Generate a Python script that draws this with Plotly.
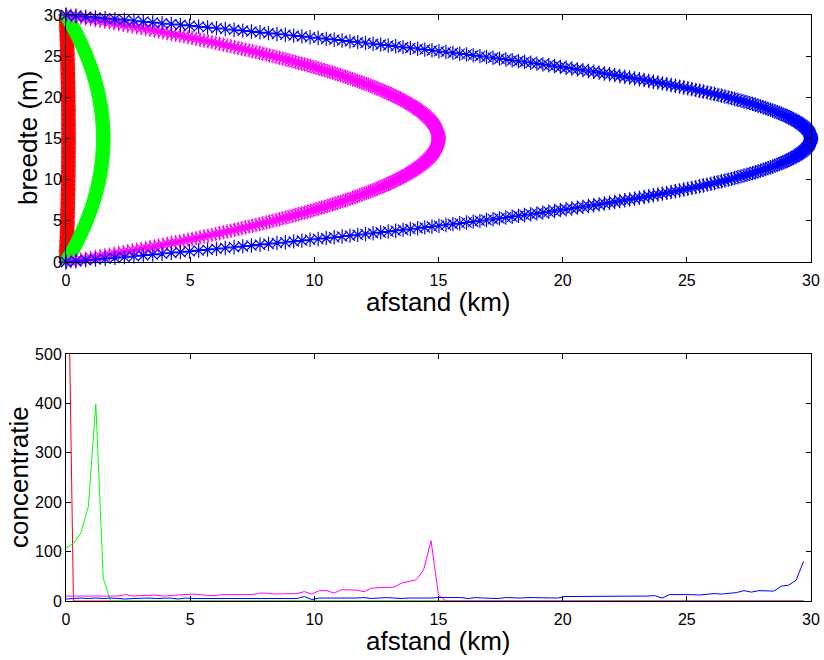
import plotly.graph_objects as go

# ---- Dwarsprofiel: positie over de breedte (m) ----
breedte_m = [
    0.0, 0.1, 0.2, 0.3, 0.4, 0.5, 0.6, 0.7, 0.8, 0.9,
    1.0, 1.1, 1.2, 1.3, 1.4, 1.5, 1.6, 1.7, 1.8, 1.9,
    2.0, 2.1, 2.2, 2.3, 2.4, 2.5, 2.6, 2.7, 2.8, 2.9,
    3.0, 3.1, 3.2, 3.3, 3.4, 3.5, 3.6, 3.7, 3.8, 3.9,
    4.0, 4.1, 4.2, 4.3, 4.4, 4.5, 4.6, 4.7, 4.8, 4.9,
    5.0, 5.1, 5.2, 5.3, 5.4, 5.5, 5.6, 5.7, 5.8, 5.9,
    6.0, 6.1, 6.2, 6.3, 6.4, 6.5, 6.6, 6.7, 6.8, 6.9,
    7.0, 7.1, 7.2, 7.3, 7.4, 7.5, 7.6, 7.7, 7.8, 7.9,
    8.0, 8.1, 8.2, 8.3, 8.4, 8.5, 8.6, 8.7, 8.8, 8.9,
    9.0, 9.1, 9.2, 9.3, 9.4, 9.5, 9.6, 9.7, 9.8, 9.9,
    10.0, 10.1, 10.2, 10.3, 10.4, 10.5, 10.6, 10.7, 10.8, 10.9,
    11.0, 11.1, 11.2, 11.3, 11.4, 11.5, 11.6, 11.7, 11.8, 11.9,
    12.0, 12.1, 12.2, 12.3, 12.4, 12.5, 12.6, 12.7, 12.8, 12.9,
    13.0, 13.1, 13.2, 13.3, 13.4, 13.5, 13.6, 13.7, 13.8, 13.9,
    14.0, 14.1, 14.2, 14.3, 14.4, 14.5, 14.6, 14.7, 14.8, 14.9,
    15.0, 15.1, 15.2, 15.3, 15.4, 15.5, 15.6, 15.7, 15.8, 15.9,
    16.0, 16.1, 16.2, 16.3, 16.4, 16.5, 16.6, 16.7, 16.8, 16.9,
    17.0, 17.1, 17.2, 17.3, 17.4, 17.5, 17.6, 17.7, 17.8, 17.9,
    18.0, 18.1, 18.2, 18.3, 18.4, 18.5, 18.6, 18.7, 18.8, 18.9,
    19.0, 19.1, 19.2, 19.3, 19.4, 19.5, 19.6, 19.7, 19.8, 19.9,
    20.0, 20.1, 20.2, 20.3, 20.4, 20.5, 20.6, 20.7, 20.8, 20.9,
    21.0, 21.1, 21.2, 21.3, 21.4, 21.5, 21.6, 21.7, 21.8, 21.9,
    22.0, 22.1, 22.2, 22.3, 22.4, 22.5, 22.6, 22.7, 22.8, 22.9,
    23.0, 23.1, 23.2, 23.3, 23.4, 23.5, 23.6, 23.7, 23.8, 23.9,
    24.0, 24.1, 24.2, 24.3, 24.4, 24.5, 24.6, 24.7, 24.8, 24.9,
    25.0, 25.1, 25.2, 25.3, 25.4, 25.5, 25.6, 25.7, 25.8, 25.9,
    26.0, 26.1, 26.2, 26.3, 26.4, 26.5, 26.6, 26.7, 26.8, 26.9,
    27.0, 27.1, 27.2, 27.3, 27.4, 27.5, 27.6, 27.7, 27.8, 27.9,
    28.0, 28.1, 28.2, 28.3, 28.4, 28.5, 28.6, 28.7, 28.8, 28.9,
    29.0, 29.1, 29.2, 29.3, 29.4, 29.5, 29.6, 29.7, 29.8, 29.9,
    30.0,
]

# Relatieve verplaatsing over de breedte (0 aan de oevers, 1 midden in de geul)
profiel = [
    0.0, 0.0133, 0.0265, 0.0396, 0.0526, 0.0656, 0.0784, 0.0912, 0.1038, 0.1164,
    0.1289, 0.1413, 0.1536, 0.1658, 0.1780, 0.1900, 0.2020, 0.2138, 0.2256, 0.2373,
    0.2489, 0.2604, 0.2718, 0.2832, 0.2944, 0.3056, 0.3166, 0.3276, 0.3385, 0.3493,
    0.3600, 0.3706, 0.3812, 0.3916, 0.4020, 0.4122, 0.4224, 0.4325, 0.4425, 0.4524,
    0.4622, 0.4720, 0.4816, 0.4912, 0.5006, 0.5100, 0.5193, 0.5285, 0.5376, 0.5466,
    0.5556, 0.5644, 0.5732, 0.5818, 0.5904, 0.5989, 0.6073, 0.6156, 0.6238, 0.6320,
    0.6400, 0.6480, 0.6558, 0.6636, 0.6713, 0.6789, 0.6864, 0.6938, 0.7012, 0.7084,
    0.7156, 0.7226, 0.7296, 0.7365, 0.7433, 0.7500, 0.7566, 0.7632, 0.7696, 0.7760,
    0.7822, 0.7884, 0.7945, 0.8005, 0.8064, 0.8122, 0.8180, 0.8236, 0.8292, 0.8346,
    0.8400, 0.8453, 0.8505, 0.8556, 0.8606, 0.8656, 0.8704, 0.8752, 0.8798, 0.8844,
    0.8889, 0.8933, 0.8976, 0.9018, 0.9060, 0.9100, 0.9140, 0.9178, 0.9216, 0.9253,
    0.9289, 0.9324, 0.9358, 0.9392, 0.9424, 0.9456, 0.9486, 0.9516, 0.9545, 0.9573,
    0.9600, 0.9626, 0.9652, 0.9676, 0.9700, 0.9722, 0.9744, 0.9765, 0.9785, 0.9804,
    0.9822, 0.9840, 0.9856, 0.9872, 0.9886, 0.9900, 0.9913, 0.9925, 0.9936, 0.9946,
    0.9956, 0.9964, 0.9972, 0.9978, 0.9984, 0.9989, 0.9993, 0.9996, 0.9998, 1.0000,
    1.0000,
    1.0000, 0.9998, 0.9996, 0.9993, 0.9989, 0.9984, 0.9978, 0.9972, 0.9964, 0.9956,
    0.9946, 0.9936, 0.9925, 0.9913, 0.9900, 0.9886, 0.9872, 0.9856, 0.9840, 0.9822,
    0.9804, 0.9785, 0.9765, 0.9744, 0.9722, 0.9700, 0.9676, 0.9652, 0.9626, 0.9600,
    0.9573, 0.9545, 0.9516, 0.9486, 0.9456, 0.9424, 0.9392, 0.9358, 0.9324, 0.9289,
    0.9253, 0.9216, 0.9178, 0.9140, 0.9100, 0.9060, 0.9018, 0.8976, 0.8933, 0.8889,
    0.8844, 0.8798, 0.8752, 0.8704, 0.8656, 0.8606, 0.8556, 0.8505, 0.8453, 0.8400,
    0.8346, 0.8292, 0.8236, 0.8180, 0.8122, 0.8064, 0.8005, 0.7945, 0.7884, 0.7822,
    0.7760, 0.7696, 0.7632, 0.7566, 0.7500, 0.7433, 0.7365, 0.7296, 0.7226, 0.7156,
    0.7084, 0.7012, 0.6938, 0.6864, 0.6789, 0.6713, 0.6636, 0.6558, 0.6480, 0.6400,
    0.6320, 0.6238, 0.6156, 0.6073, 0.5989, 0.5904, 0.5818, 0.5732, 0.5644, 0.5556,
    0.5466, 0.5376, 0.5285, 0.5193, 0.5100, 0.5006, 0.4912, 0.4816, 0.4720, 0.4622,
    0.4524, 0.4425, 0.4325, 0.4224, 0.4122, 0.4020, 0.3916, 0.3812, 0.3706, 0.3600,
    0.3493, 0.3385, 0.3276, 0.3166, 0.3056, 0.2944, 0.2832, 0.2718, 0.2604, 0.2489,
    0.2373, 0.2256, 0.2138, 0.2020, 0.1900, 0.1780, 0.1658, 0.1536, 0.1413, 0.1289,
    0.1164, 0.1038, 0.0912, 0.0784, 0.0656, 0.0526, 0.0396, 0.0265, 0.0133, 0.0,
]

# Afgelegde afstand van het front (km) per tijdstip, met bijbehorende kleur
front_km = [0.1, 1.5, 15.0, 30.0]
kleuren = ["#ff0000", "#00ff00", "#ff00ff", "#0000ff"]

# ---- Concentratie langs de rivier ----
afstand_km = [
    0.0, 0.3, 0.6, 0.9, 1.2, 1.5, 1.8, 2.1, 2.4, 2.7,
    3.0, 3.3, 3.6, 3.9, 4.2, 4.5, 4.8, 5.1, 5.4, 5.7,
    6.0, 6.3, 6.6, 6.9, 7.2, 7.5, 7.8, 8.1, 8.4, 8.7,
    9.0, 9.3, 9.6, 9.9, 10.2, 10.5, 10.8, 11.1, 11.4, 11.7,
    12.0, 12.3, 12.6, 12.9, 13.2, 13.5, 13.8, 14.1, 14.4, 14.7,
    15.0, 15.3, 15.6, 15.9, 16.2, 16.5, 16.8, 17.1, 17.4, 17.7,
    18.0, 18.3, 18.6, 18.9, 19.2, 19.5, 19.8, 20.1, 20.4, 20.7,
    21.0, 21.3, 21.6, 21.9, 22.2, 22.5, 22.8, 23.1, 23.4, 23.7,
    24.0, 24.3, 24.6, 24.9, 25.2, 25.5, 25.8, 26.1, 26.4, 26.7,
    27.0, 27.3, 27.6, 27.9, 28.2, 28.5, 28.8, 29.1, 29.4, 29.7,
]

conc_rood = [
    1000, 0, 0, 0, 0, 0, 0, 0, 0, 0,
    0, 0, 0, 0, 0, 0, 0, 0, 0, 0,
    0, 0, 0, 0, 0, 0, 0, 0, 0, 0,
    0, 0, 0, 0, 0, 0, 0, 0, 0, 0,
    0, 0, 0, 0, 0, 0, 0, 0, 0, 0,
    0, 0, 0, 0, 0, 0, 0, 0, 0, 0,
    0, 0, 0, 0, 0, 0, 0, 0, 0, 0,
    0, 0, 0, 0, 0, 0, 0, 0, 0, 0,
    0, 0, 0, 0, 0, 0, 0, 0, 0, 0,
    0, 0, 0, 0, 0, 0, 0, 0, 0, 0,
]

conc_groen = [
    107, 117, 138, 191, 399, 46, 0, 0, 0, 0,
    0, 0, 0, 0, 0, 0, 0, 0, 0, 0,
    0, 0, 0, 0, 0, 0, 0, 0, 0, 0,
    0, 0, 0, 0, 0, 0, 0, 0, 0, 0,
    0, 0, 0, 0, 0, 0, 0, 0, 0, 0,
    0, 0, 0, 0, 0, 0, 0, 0, 0, 0,
    0, 0, 0, 0, 0, 0, 0, 0, 0, 0,
    0, 0, 0, 0, 0, 0, 0, 0, 0, 0,
    0, 0, 0, 0, 0, 0, 0, 0, 0, 0,
    0, 0, 0, 0, 0, 0, 0, 0, 0, 0,
]

conc_magenta = [
    10, 10, 10, 10, 10, 10, 9, 10, 13, 10,
    11, 11, 12, 10, 11, 11, 12, 14, 13, 11,
    11, 13, 13, 13, 13, 13, 16, 16, 14, 15,
    15, 15, 19, 14, 21, 21, 16, 23, 22, 22,
    19, 26, 27, 27, 28, 36, 39, 43, 63, 122,
    12, 0, 0, 0, 0, 0, 0, 0, 0, 0,
    0, 0, 0, 0, 0, 0, 0, 0, 0, 0,
    0, 0, 0, 0, 0, 0, 0, 0, 0, 0,
    0, 0, 0, 0, 0, 0, 0, 0, 0, 0,
    0, 0, 0, 0, 0, 0, 0, 0, 0, 0,
]

conc_blauw = [
    4, 5, 6, 5, 6, 5, 6, 5, 4, 5,
    6, 6, 5, 6, 6, 4, 6, 5, 5, 6,
    5, 5, 6, 6, 5, 6, 6, 5, 5, 6,
    6, 5, 9, 3, 6, 6, 5, 6, 5, 6,
    7, 5, 6, 7, 6, 5, 6, 6, 5, 6,
    7, 7, 6, 7, 5, 7, 6, 6, 5, 7,
    6, 6, 7, 7, 6, 7, 6, 9, 9, 10,
    10, 9, 10, 9, 10, 10, 10, 10, 10, 11,
    6, 13, 13, 14, 13, 12, 13, 15, 14, 15,
    17, 21, 18, 21, 21, 20, 30, 32, 42, 80,
]

FONT = "Liberation Sans, Arial, Helvetica, sans-serif"

fig = go.Figure()

# Bovenste paneel: deeltjesposities als sterretjes
for front, kleur in zip(front_km, kleuren):
    fig.add_trace(go.Scatter(
        x=[p * front for p in profiel],
        y=breedte_m,
        mode="markers",
        marker=dict(symbol="asterisk-open", size=12, color=kleur,
                    line=dict(color=kleur, width=1.2)),
        cliponaxis=False,
        xaxis="x", yaxis="y",
        hoverinfo="skip",
    ))

# Onderste paneel: concentratieprofielen
for conc, kleur in zip([conc_rood, conc_groen, conc_magenta, conc_blauw], kleuren):
    fig.add_trace(go.Scatter(
        x=afstand_km,
        y=conc,
        mode="lines",
        line=dict(color=kleur, width=1),
        xaxis="x2", yaxis="y2",
        hoverinfo="skip",
    ))

as_stijl = dict(
    showline=True, linecolor="black", linewidth=1, mirror="ticks",
    ticks="inside", ticklen=5, tickcolor="black", tickwidth=1,
    showgrid=False, zeroline=False, automargin=False,
    tickfont=dict(family=FONT, size=16, color="black"),
)

W, H = 824, 660
x_dom = [66 / W, 811 / W]

fig.update_layout(
    width=W, height=H,
    margin=dict(l=0, r=0, t=0, b=0, pad=0, autoexpand=False),
    paper_bgcolor="white", plot_bgcolor="white",
    showlegend=False,
    xaxis=dict(domain=x_dom, range=[0, 30], tickvals=[0, 5, 10, 15, 20, 25, 30],
               anchor="y", ticklabelstandoff=4, **as_stijl),
    yaxis=dict(domain=[1 - 262 / H, 1 - 15 / H], range=[0, 30],
               tickvals=[0, 5, 10, 15, 20, 25, 30], anchor="x", **as_stijl),
    xaxis2=dict(domain=x_dom, range=[0, 30], tickvals=[0, 5, 10, 15, 20, 25, 30],
                anchor="y2", ticklabelstandoff=4, **as_stijl),
    yaxis2=dict(domain=[1 - 601 / H, 1 - 354 / H], range=[0, 500],
                tickvals=[0, 100, 200, 300, 400, 500], anchor="x2", **as_stijl),
)

titel_font = dict(family=FONT, size=26, color="black")
for tekst, x, y, hoek in [
    ("afstand (km)", 438.5, 302, 0),
    ("afstand (km)", 438.5, 641, 0),
    ("breedte (m)", 28, 138, -90),
    ("concentratie", 19, 477, -90),
]:
    fig.add_annotation(
        text=tekst, x=x / W, y=1 - y / H, xref="paper", yref="paper",
        xanchor="center", yanchor="middle", showarrow=False,
        textangle=hoek, font=titel_font,
    )

fig.write_html("out.html")
